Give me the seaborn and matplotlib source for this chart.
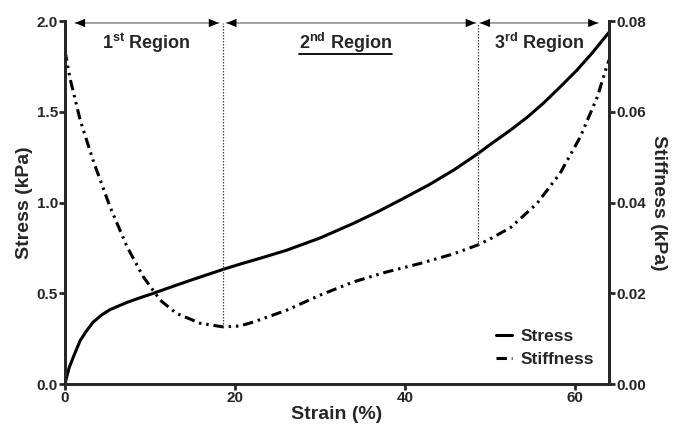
import matplotlib
matplotlib.use("Agg")
import matplotlib.pyplot as plt
import seaborn as sns
import pandas as pd
import numpy as np

sns.set_theme(style="ticks")
plt.rcParams['font.family'] = ['Liberation Sans', 'DejaVu Sans']
plt.rcParams['font.weight'] = 'bold'
plt.rcParams['mathtext.fontset'] = 'custom'
plt.rcParams['mathtext.bf'] = 'Liberation Sans:bold'
plt.rcParams['mathtext.rm'] = 'Liberation Sans:bold'

strain = [0, 0.5, 1.0, 1.8, 2.5, 3.3, 4.3, 5.3, 6.3, 7.3, 8.8, 10.4, 12.8, 15.1, 18.6, 20.6, 23.3, 26.1, 30.0,
          33.9, 36.8, 39.8, 42.8, 45.7, 48.6, 50.0, 52.4, 54.4, 56.3, 58.2, 60.2, 62.0, 63.7, 64.0]
stress = [0.0, 0.09, 0.15, 0.24, 0.29, 0.34, 0.38, 0.41, 0.43, 0.45, 0.475, 0.50, 0.54, 0.577, 0.632, 0.661, 0.698,
          0.738, 0.805, 0.885, 0.950, 1.023, 1.098, 1.179, 1.271, 1.320, 1.400, 1.472, 1.550, 1.636, 1.730, 1.825,
          1.923, 1.94]
stiff_strain = [0, 0.6, 1.8, 3.3, 5.3, 7.3, 9.2, 11.2, 13.1, 15.9, 18.6, 20.6, 22.2, 26.1, 30.0, 33.9, 37.8, 41.8,
                45.7, 48.6, 50.0, 52.4, 55.5, 58.2, 60.6, 62.6, 63.7, 64.0]
stiffness = [0.0735, 0.0674, 0.0582, 0.0494, 0.0391, 0.0303, 0.0237, 0.0185, 0.0156, 0.0134, 0.0126, 0.0128,
             0.0137, 0.0163, 0.0196, 0.0225, 0.0247, 0.0266, 0.0287, 0.0307, 0.0320, 0.0345, 0.0398, 0.0464,
             0.0545, 0.0633, 0.0700, 0.0715]
boundaries = [18.6, 48.6]
region_spans = [(1.2, 18.1), (19.0, 48.3), (48.8, 62.7)]
region_labels = [r'1$^{\mathbf{st}}$ Region', r'2$^{\mathbf{nd}}$ Region', r'3$^{\mathbf{rd}}$ Region']
region_centers = [9.6, 33.0, 55.8]

df1 = pd.DataFrame({'strain': strain, 'stress': stress})
df2 = pd.DataFrame({'strain': stiff_strain, 'stiffness': stiffness})

fig = plt.figure(figsize=(6.83, 4.32), dpi=100)
ax = fig.add_axes([0.095, 0.111, 0.797, 0.840])
ax2 = ax.twinx()

sns.lineplot(data=df1, x='strain', y='stress', ax=ax, color='black', lw=2.2, label='Stress', legend=False)
sns.lineplot(data=df2, x='strain', y='stiffness', ax=ax2, color='black', lw=2.2, label='Stiffness', legend=False)
ax2.lines[0].set_dashes([3.4, 1.6, 0.8, 1.6, 0.8, 1.6])

ax.set_xlim(0, 64)
ax.set_ylim(0, 2.0)
ax2.set_ylim(0, 0.08)
ax.set_xticks([0, 20, 40, 60])
ax.set_yticks([0, 0.5, 1.0, 1.5, 2.0])
ax.set_yticklabels(['0.0', '0.5', '1.0', '1.5', '2.0'])
ax2.set_yticks([0, 0.02, 0.04, 0.06, 0.08])
ax2.set_yticklabels(['0.00', '0.02', '0.04', '0.06', '0.08'])

for a in (ax, ax2):
    a.spines['top'].set_visible(False)
    for s in a.spines.values():
        s.set_linewidth(2)
    a.tick_params(width=2, length=4, labelsize=11, direction='out', pad=1)
    for lab in a.get_xticklabels() + a.get_yticklabels():
        lab.set_fontweight('bold')

ax.set_xlabel('Strain (%)', fontsize=14, fontweight='bold', labelpad=1)
ax.set_ylabel('Stress (kPa)', fontsize=14, fontweight='bold', labelpad=3)
ax2.set_ylabel('Stiffness (kPa)', fontsize=14, fontweight='bold', rotation=270, labelpad=15)

for b in boundaries:
    low = float(np.interp(b, stiff_strain, stiffness))
    ax2.vlines(b, low, 0.0795, color='#444444', lw=0.9, linestyles=(0, (1.2, 1.2)))

for (x0, x1) in region_spans:
    ax.annotate('', xy=(x0, 1.99), xytext=(x1, 1.99), annotation_clip=False,
                arrowprops=dict(arrowstyle='-', color='#888888', lw=1.1,
                                shrinkA=0, shrinkB=0))
    ax.annotate('', xy=(x0, 1.99), xytext=(x1, 1.99), annotation_clip=False,
                arrowprops=dict(arrowstyle='<|-|>,head_length=0.6,head_width=0.25', color='black', lw=0.01,
                                mutation_scale=12, shrinkA=0, shrinkB=0))

texts = []
for lbl, cx in zip(region_labels, region_centers):
    t = ax.text(cx, 1.88, lbl, ha='center', va='center', fontsize=13, fontweight='bold')
    texts.append(t)

fig.canvas.draw()
r = fig.canvas.get_renderer()
bb = texts[1].get_window_extent(r)
inv = fig.transFigure.inverted()
(x0f, y0f), (x1f, y1f) = inv.transform([(bb.x0, bb.y0), (bb.x1, bb.y1)])
fig.add_artist(plt.Line2D([x0f, x1f], [y0f + 0.003, y0f + 0.003], color='black', lw=1.3,
                          transform=fig.transFigure))

h1 = ax.lines[0]
h2 = ax2.lines[0]
leg = ax.legend([h1, h2], ['Stress', 'Stiffness'], loc='lower right', bbox_to_anchor=(1.0, 0.003),
                frameon=False, handlelength=0.95, handletextpad=0.45, labelspacing=0.45,
                prop={'weight': 'bold', 'size': 12.5})

fig.savefig('out.png', dpi=100)
